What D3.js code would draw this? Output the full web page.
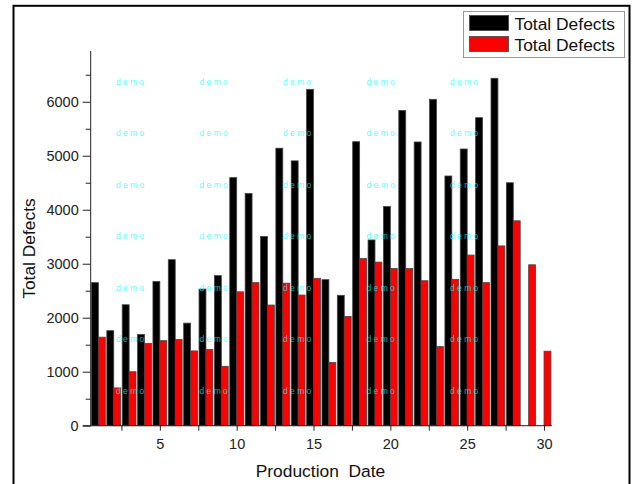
<!DOCTYPE html>
<html><head><meta charset="utf-8">
<script src="https://cdn.jsdelivr.net/npm/d3@7"></script>
<style>body{margin:0;background:#fff}svg{display:block}text{font-family:Arial,"Liberation Sans",sans-serif}</style>
</head><body><svg id="c" width="634" height="484"></svg>
<script>
const dates = d3.range(1, 31);
const seriesNames = ["Total Defects", "Total Defects"];
const blackVals = [2650,1760,2240,1690,2670,3075,1900,2530,2780,4595,4300,3505,5140,4905,6230,2705,2415,5260,3440,4060,5840,5255,6045,4625,5125,5705,6435,4500,0,0];
const redVals = [1640,700,1000,1525,1575,1595,1385,1410,1100,2480,2650,2235,2640,2420,2730,1170,2025,3095,3030,2910,2910,2685,1465,2710,3160,2650,3330,3795,2980,1380];
const yTicks = [0,1000,2000,3000,4000,5000,6000];
const yMinor = [500,1500,2500,3500,4500,5500,6500];
const xTicks = [5,10,15,20,25,30];
const xMinor = [2.5,7.5,12.5,17.5,22.5,27.5];

const svg = d3.select("#c");
const x = d3.scaleLinear().domain([0.5, 30.5]).range([90.7, 551.7]);
const y = d3.scaleLinear().domain([0, 6940]).range([425.7, 51]);
const bw = 0.45;

// frame
svg.append("rect").attr("x",13.5).attr("y",5.8).attr("width",616).attr("height",520)
  .attr("fill","none").attr("stroke","#000").attr("stroke-width",2);

const g = svg.append("g");
const series = [{vals: blackVals, fill: "#000", off: -bw}, {vals: redVals, fill: "#ff0000", off: 0}];
series.forEach(s => {
  g.selectAll(null).data(dates.map((d,i)=>({d, v:s.vals[i]})).filter(o=>o.v>0)).enter().append("rect")
    .attr("x", o => x(o.d + s.off))
    .attr("width", x(bw) - x(0))
    .attr("y", o => y(o.v))
    .attr("height", o => y(0) - y(o.v))
    .attr("fill", s.fill).attr("stroke", "#444").attr("stroke-width", 0.8);
});

// axes
const yAxis = d3.axisLeft(y).tickValues(yTicks).tickSize(8).tickPadding(4).tickFormat(d3.format("d"));
const yA = svg.append("g").attr("transform","translate(90.7,0)").call(yAxis);
yA.select(".domain").attr("d", `M0,${y(0)}V51`);
svg.append("g").attr("transform","translate(90.7,0)").call(d3.axisLeft(y).tickValues(yMinor).tickSize(5).tickFormat("")).select(".domain").remove();

const xAxis = d3.axisBottom(x).tickValues(xTicks).tickSize(5).tickPadding(8);
const xA = svg.append("g").attr("transform",`translate(0,${y(0)})`).call(xAxis);
xA.select(".domain").attr("d", `M82.7,0H551.7`);
svg.append("g").attr("transform",`translate(0,${y(0)})`).call(d3.axisBottom(x).tickValues(xMinor).tickSize(5).tickFormat("")).select(".domain").remove();
svg.selectAll(".tick text").attr("font-size", 14.5).attr("fill","#222").attr("font-family","Arial, Liberation Sans, sans-serif");
svg.selectAll(".tick line, .domain").attr("stroke","#222");

// axis titles
svg.append("text").attr("x",320.5).attr("y",477).attr("text-anchor","middle").attr("font-size",17.4).attr("fill","#111").style("white-space","pre").text("Production  Date");
svg.append("text").attr("transform","translate(35,248.5) rotate(-90)").attr("text-anchor","middle").attr("font-size",17.4).attr("fill","#111").text("Total Defects");

// watermark
const wmX = [116, 199.5, 283, 366.5, 450];
const wmY = [81.7, 133.3, 184.7, 236, 287.6, 339.2, 390.8];
wmY.forEach(yy => wmX.forEach(xx => {
  svg.append("text").attr("x",xx).attr("y",yy+3).attr("font-size",8.5).attr("fill","#00ffff").attr("fill-opacity",0.7)
    .style("white-space","pre").text("d e m o");
}));

// legend
const lg = svg.append("g");
lg.append("rect").attr("x",463.5).attr("y",11.5).attr("width",161).attr("height",46).attr("fill","#fff").attr("stroke","#999").attr("stroke-width",1);
[{c:"#000",yy:15.5},{c:"#ff0000",yy:36.5}].forEach((o,i)=>{
  lg.append("rect").attr("x",469.5).attr("y",o.yy).attr("width",39).attr("height",15).attr("fill",o.c).attr("stroke","#444").attr("stroke-width",0.8);
  lg.append("text").attr("x",514.5).attr("y",o.yy+14).attr("font-size",17.4).attr("fill","#111").text(seriesNames[i]);
});
</script></body></html>
